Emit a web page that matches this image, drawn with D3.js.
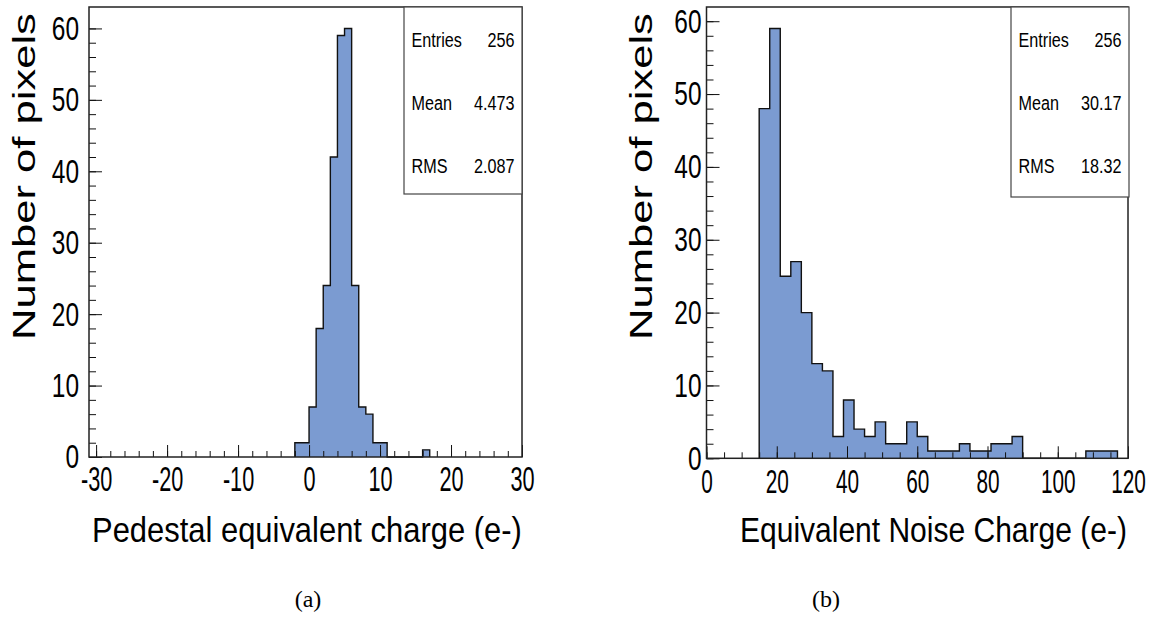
<!DOCTYPE html>
<html>
<head>
<meta charset="utf-8">
<script src="https://cdn.jsdelivr.net/npm/d3@7"></script>
<style>
  body { margin: 0; background: #fff; }
  svg text { font-family: "Liberation Sans", Arial, sans-serif; fill: #000; }
</style>
</head>
<body>
<div id="chart"></div>
<script>
// (a) pedestal, 1 e- bins (lower edges)
const pedBinLow = [-2, -1, 0, 1, 2, 3, 4, 5, 6, 7, 8, 9, 10, 11, 12, 13, 14, 15, 16];
const pedCounts = [2, 2, 7, 18, 24, 42, 59, 60, 24, 7, 6, 2, 2, 0, 0, 0, 0, 0, 1];
const pedTicks = [-30, -20, -10, 0, 10, 20, 30];
const pedStats = [["Entries", "256"], ["Mean", "4.473"], ["RMS", "2.087"]];

// (b) ENC, 3 e- bins (lower edges)
const encBinLow = [15, 18, 21, 24, 27, 30, 33, 36, 39, 42, 45, 48, 51, 54, 57, 60, 63,
  66, 69, 72, 75, 78, 81, 84, 87, 90, 93, 96, 99, 102, 105, 108, 111, 114];
const encCounts = [48, 59, 25, 27, 20, 13, 12, 3, 8, 4, 3, 5, 2, 2, 5, 3, 1,
  1, 1, 2, 1, 1, 2, 2, 3, 0, 0, 0, 0, 0, 0, 1, 1, 1];
const encTicks = [0, 20, 40, 60, 80, 100, 120];
const encStats = [["Entries", "256"], ["Mean", "30.17"], ["RMS", "18.32"]];

const yTicks = [0, 10, 20, 30, 40, 50, 60];

const W = 1151, H = 617;
const fillColor = "#7b9bd1";

const svg = d3.select("#chart")
  .append("svg")
  .attr("width", W)
  .attr("height", H);

// squeeze/stretch a text along its run to a given length
function fitText(t, x, y, len, rot) {
  const natural = t.node().getComputedTextLength();
  const s = len / natural;
  t.attr("transform", `translate(${x},${y})${rot ? " rotate(-90)" : ""} scale(${s},1)`);
}

function drawHist(p) {
  const x = d3.scaleLinear().domain(p.xDomain).range([p.left, p.right]);
  const y = d3.scaleLinear().domain([0, p.yMax]).range([p.bottom, p.top]);
  const g = svg.append("g");

  const last = p.low.length - 1;
  const end = p.low[last] + p.bw;
  const pts = [{ x: p.low[0], n: 0 }]
    .concat(p.low.map((v, i) => ({ x: v, n: p.counts[i] })))
    .concat([{ x: end, n: p.counts[last] }, { x: end, n: 0 }]);

  g.append("path")
    .datum(pts)
    .attr("fill", fillColor)
    .attr("d", d3.area().x(d => x(d.x)).y0(y(0)).y1(d => y(d.n)).curve(d3.curveStepAfter));

  g.append("path")
    .datum(pts)
    .attr("fill", "none")
    .attr("stroke", "#111")
    .attr("stroke-width", 1.4)
    .attr("d", d3.line().x(d => x(d.x)).y(d => y(d.n)).curve(d3.curveStepAfter));

  // x axis, ticks inward
  g.append("g")
    .attr("transform", `translate(0,${p.bottom})`)
    .call(d3.axisBottom(x).tickValues(p.minorX).tickFormat("").tickSize(-6))
    .call(a => a.select(".domain").remove());

  g.append("g")
    .attr("transform", `translate(0,${p.bottom})`)
    .call(d3.axisBottom(x).tickValues(p.xTicks).tickFormat(d => String(d)).tickSize(-12))
    .call(a => a.select(".domain").remove())
    .selectAll("text")
    .attr("y", 34.5)
    .attr("dy", null)
    .style("font-size", p.xTickFont + "px")
    .attr("transform", `scale(${p.xTickSx},1)`);

  // y axis
  g.append("g")
    .attr("transform", `translate(${p.left},0)`)
    .call(d3.axisLeft(y).tickValues(d3.range(0, 61, 2)).tickFormat("").tickSize(-7))
    .call(a => a.select(".domain").remove());

  g.append("g")
    .attr("transform", `translate(${p.left},0)`)
    .call(d3.axisLeft(y).tickValues(yTicks).tickFormat(d => String(d)).tickSize(-13))
    .call(a => a.select(".domain").remove())
    .selectAll("text")
    .attr("x", -p.yGap / 0.72)
    .style("font-size", "34px")
    .attr("transform", "scale(0.72,1)");

  g.selectAll(".tick line").attr("stroke", "#111");

  // frame
  g.append("rect")
    .attr("x", p.left).attr("y", p.top)
    .attr("width", p.right - p.left).attr("height", p.bottom - p.top)
    .attr("fill", "none").attr("stroke", "#222").attr("stroke-width", 1.5);

  // stats box
  g.append("rect")
    .attr("x", p.box[0]).attr("y", p.top)
    .attr("width", p.box[1] - p.box[0]).attr("height", p.box[2] - p.top)
    .attr("fill", "#fff").attr("stroke", "#444").attr("stroke-width", 1.2);

  p.stats.forEach((s, i) => {
    const by = 47 + i * 63;
    g.append("text")
      .attr("transform", `translate(${p.box[0] + 7.5},${by}) scale(0.77,1)`)
      .style("font-size", "21px")
      .text(s[0]);
    g.append("text")
      .attr("transform", `translate(${p.box[1] - 7.5},${by}) scale(0.77,1)`)
      .attr("text-anchor", "end")
      .style("font-size", "21px")
      .text(s[1]);
  });

  // axis titles
  const yt = g.append("text")
    .attr("text-anchor", "middle")
    .style("font-size", "31px")
    .text("Number of pixels");
  fitText(yt, p.yTitleX, 176.5, 327, true);

  const xt = g.append("text")
    .style("font-size", "35px")
    .text(p.xLabel);
  fitText(xt, p.xTitle[0], 541.5, p.xTitle[1], false);

  svg.append("text")
    .attr("x", p.caption)
    .attr("y", 607)
    .attr("text-anchor", "middle")
    .style("font-family", "'Liberation Serif', 'Times New Roman', serif")
    .style("font-size", "24px")
    .text(p.captionText);
}

drawHist({
  low: pedBinLow, counts: pedCounts, bw: 1,
  xDomain: [-31, 30], yMax: 63,
  left: 89, right: 522, top: 7, bottom: 457,
  xTicks: pedTicks, minorX: d3.range(-30, 31, 2),
  xTickFont: 35, xTickSx: 0.62, yGap: 10,
  stats: pedStats, box: [404, 522, 194],
  yTitleX: 35, xTitle: [92, 430], xLabel: "Pedestal equivalent charge (e-)",
  caption: 308, captionText: "(a)"
});

drawHist({
  low: encBinLow, counts: encCounts, bw: 3,
  xDomain: [0, 120], yMax: 61.95,
  left: 706.5, right: 1128, top: 7, bottom: 458.3,
  xTicks: encTicks, minorX: d3.range(0, 121, 5),
  xTickFont: 33, xTickSx: 0.63, yGap: 5,
  stats: encStats, box: [1011, 1129, 197],
  yTitleX: 652, xTitle: [740, 387], xLabel: "Equivalent Noise Charge (e-)",
  caption: 826, captionText: "(b)"
});
</script>
</body>
</html>
